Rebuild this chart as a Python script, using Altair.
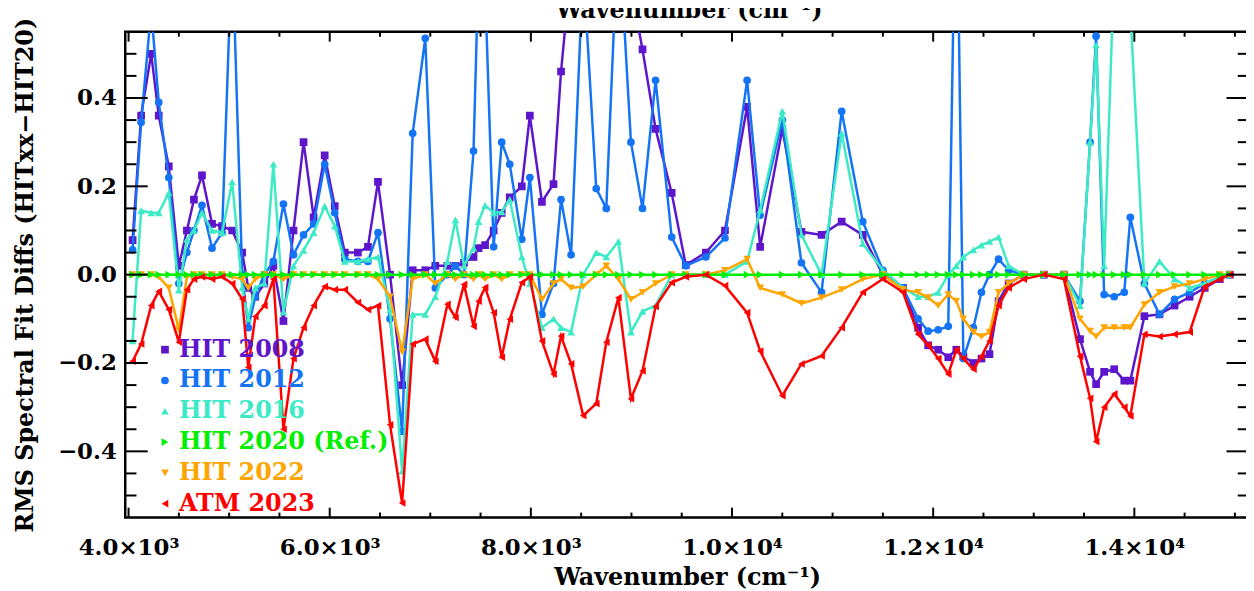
import altair as alt
import pandas as pd

# ---------------- data ----------------
wavenumber = [
    4040, 4125, 4225, 4300, 4400, 4500, 4580, 4650, 4730, 4830,
    4930, 5030, 5130, 5190, 5260, 5350, 5440, 5540, 5640, 5740,
    5840, 5950, 6050, 6150, 6280, 6380, 6480, 6600, 6720, 6825,
    6950, 7050, 7170, 7250, 7335, 7430, 7480, 7545, 7630, 7710,
    7790, 7910, 7990, 8110, 8225, 8300, 8400, 8520, 8650, 8750,
    8870, 8995, 9110, 9240, 9400, 9540, 9740, 9930, 10150, 10280,
    10500, 10690, 10890, 11090, 11300, 11500, 11700, 11850, 11950, 12050,
    12150, 12230, 12300, 12400, 12480, 12560, 12650, 12750, 12900, 13100,
    13300, 13460, 13560, 13620, 13700, 13800, 13900, 13960, 14100, 14250,
    14400, 14550, 14700, 14850, 14950,
]

hit2008 = [
    0.078, 0.36, 0.50, 0.36, 0.245, 0.02, 0.10, 0.17, 0.225, 0.115,
    0.11, 0.10, 0.05, -0.03, -0.05, -0.02, 0.02, -0.105, 0.10, 0.30,
    0.13, 0.27, 0.155, 0.05, 0.05, 0.063, 0.21, 0.0, -0.25, 0.01,
    0.01, 0.02, 0.02, 0.02, 0.027, 0.04, 0.06, 0.067, 0.10, 0.14,
    0.175, 0.20, 0.36, 0.165, 0.205, 0.46, 0.70, 0.80, 0.80, 0.80,
    0.75, 0.65, 0.51, 0.33, 0.185, 0.022, 0.05, 0.10, 0.38, 0.063,
    0.33, 0.097, 0.09, 0.12, 0.09, 0.0, -0.03, -0.12, -0.16, -0.17,
    -0.187, -0.17, -0.185, -0.20, -0.19, -0.18, -0.06, -0.02, 0.0, 0.0,
    0.0, -0.146, -0.22, -0.248, -0.22, -0.214, -0.24, -0.24, -0.094, -0.09,
    -0.07, -0.05, -0.03, -0.01, 0.0,
]

hit2012 = [
    0.056, 0.345, 0.60, 0.39, 0.22, -0.02, 0.05, 0.10, 0.157, 0.06,
    0.095, 0.75, 0.0, -0.12, -0.05, 0.0, 0.03, 0.16, 0.045, 0.09,
    0.115, 0.25, 0.14, 0.035, 0.03, 0.03, 0.095, -0.10, -0.355, 0.32,
    0.535, -0.03, 0.0, 0.02, 0.0, 0.28, 0.70, 0.65, 0.063, 0.30,
    0.25, 0.08, 0.22, -0.09, -0.02, 0.17, 0.045, 0.70, 0.195, 0.15,
    0.80, 0.30, 0.15, 0.44, 0.085, 0.02, 0.04, 0.083, 0.44, 0.135,
    0.35, 0.027, -0.04, 0.37, 0.12, 0.01, -0.03, -0.10, -0.128, -0.125,
    -0.117, 1.0, -0.19, -0.12, -0.04, 0.0, 0.035, 0.01, 0.0, 0.0,
    0.0, -0.06, 0.30, 0.54, -0.045, -0.05, -0.04, 0.13, -0.02, -0.09,
    -0.056, -0.04, -0.02, -0.005, 0.0,
]

hit2016 = [
    -0.15, 0.145, 0.14, 0.14, 0.185, -0.035, 0.08, 0.10, 0.14, 0.10,
    0.095, 0.21, -0.03, -0.10, -0.03, -0.02, 0.25, -0.085, 0.02, 0.055,
    0.095, 0.155, 0.11, 0.03, 0.03, 0.035, 0.04, -0.08, -0.445, -0.09,
    -0.09, -0.05, 0.03, 0.124, 0.02, 0.06, 0.12, 0.157, 0.14, 0.142,
    0.17, 0.04, -0.02, -0.12, -0.10, -0.12, -0.13, 0.0, 0.05, 0.04,
    0.075, -0.13, -0.083, -0.07, 0.0, 0.0, 0.0, 0.0, 0.03, 0.146,
    0.37, 0.09, 0.0, 0.32, 0.07, 0.01, -0.03, -0.05, -0.05, -0.04,
    0.0, 0.02, 0.04, 0.056, 0.067, 0.075, 0.085, 0.02, 0.0, 0.0,
    0.0, -0.07, 0.30, 0.52, 0.02, 0.70, 0.80, 0.60, -0.02, 0.03,
    -0.01, -0.03, -0.02, -0.005, 0.0,
]

hit2020 = [0.0] * len(wavenumber)

hit2022 = [
    0.0, 0.0, 0.0, -0.005, -0.03, -0.125, -0.005, 0.0, 0.0, 0.0,
    0.0, -0.005, -0.01, -0.03, -0.01, 0.0, 0.0, -0.01, 0.0, 0.0,
    0.0, 0.0, 0.0, 0.0, 0.0, 0.0, -0.01, -0.05, -0.175, -0.01,
    0.0, -0.02, 0.0, -0.01, 0.0, -0.01, 0.0, -0.01, 0.0, -0.01,
    0.0, 0.0, 0.0, -0.056, -0.02, -0.01, -0.03, -0.027, 0.0, 0.02,
    -0.01, -0.056, -0.04, -0.02, 0.0, 0.0, 0.0, 0.01, 0.035, -0.03,
    -0.045, -0.065, -0.052, -0.034, -0.01, 0.0, -0.034, -0.04, -0.052, -0.07,
    -0.045, -0.06, -0.10, -0.13, -0.14, -0.13, -0.04, -0.02, 0.0, 0.0,
    0.0, -0.10, -0.128, -0.14, -0.12, -0.12, -0.12, -0.12, -0.068, -0.04,
    -0.027, -0.02, -0.01, 0.0, 0.0,
]

atm2023 = [
    -0.196, -0.157, -0.07, -0.038, -0.079, -0.153, -0.034, -0.01, -0.005, -0.01,
    -0.005, -0.02, -0.055, -0.21, -0.095, -0.07, -0.01, -0.35, -0.19, -0.12,
    -0.07, -0.027, -0.034, -0.034, -0.063, -0.079, -0.07, -0.34, -0.517, -0.157,
    -0.146, -0.196, -0.067, -0.097, -0.022, -0.117, -0.06, -0.029, -0.086, -0.187,
    -0.101, -0.018, -0.005, -0.15, -0.225, -0.139, -0.202, -0.319, -0.292, -0.153,
    -0.052, -0.281, -0.218, -0.072, -0.018, -0.005, 0.0, -0.025, -0.086, -0.173,
    -0.274, -0.202, -0.184, -0.12, -0.04, -0.01, -0.04, -0.135, -0.16, -0.19,
    -0.225, -0.17, -0.19, -0.214, -0.185, -0.15, -0.07, -0.03, -0.01, 0.0,
    -0.01, -0.185, -0.28, -0.378, -0.30, -0.27, -0.30, -0.32, -0.135, -0.14,
    -0.135, -0.13, -0.027, -0.01, 0.0,
]

series_names = ["HIT 2008", "HIT 2012", "HIT 2016", "HIT 2020 (Ref.)", "HIT 2022", "ATM 2023"]
series_values = [hit2008, hit2012, hit2016, hit2020, hit2022, atm2023]
series_colors = ["#5E16CC", "#1474F5", "#3DEAC6", "#00EE00", "#FFA500", "#FF0000"]
series_shapes = ["square", "circle", "triangle-up", "triangle-right", "triangle-down", "triangle-left"]
draw_order = ["HIT 2008", "HIT 2012", "HIT 2016", "HIT 2022", "HIT 2020 (Ref.)", "ATM 2023"]

x_title = "Wavenumber (cm⁻¹)"
y_title = "RMS Spectral Fit Diffs (HITxx−HIT20)"

x_major_ticks = [4000, 6000, 8000, 10000, 12000, 14000]
x_minor_ticks = [4500, 5000, 5500, 6500, 7000, 7500, 8500, 9000, 9500, 10500, 11000,
                 11500, 12500, 13000, 13500, 14500, 15000]
y_major_ticks = [-0.4, -0.2, 0.0, 0.2, 0.4]
y_minor_ticks = [-0.5, -0.45, -0.35, -0.3, -0.25, -0.15, -0.1, -0.05,
                 0.05, 0.1, 0.15, 0.25, 0.3, 0.35, 0.45, 0.5]

x_range = [3967, 15140]
y_range = [-0.55, 0.55]

# ---------------- build ----------------
rows = []
for name, vals in zip(series_names, series_values):
    assert len(vals) == len(wavenumber), name
    for w, v in zip(wavenumber, vals):
        rows.append({"wavenumber": w, "diff": v, "series": name})
df = pd.DataFrame(rows)

FONT = "DejaVu Serif"
W, H = 1131, 489

xscale = alt.Scale(domain=x_range, nice=False, zero=False)
yscale = alt.Scale(domain=y_range, nice=False, zero=False)

x_axis = alt.Axis(
    values=x_major_ticks,
    labelExpr="datum.value < 10000 ? format(datum.value / 1000, '.1f') + '×10³' : format(datum.value / 10000, '.1f') + '×10⁴'",
    title=x_title, ticks=False, tickSize=0, domain=False, grid=False,
    labelPadding=19, labelFont=FONT, labelFontSize=23, labelFontWeight="bold", labelColor="black",
    labelFlush=False, labelOverlap=False,
    titleFont=FONT, titleFontSize=24, titleFontWeight="bold", titleColor="black",
    titleBaseline="alphabetic", titleY=67,
)
y_axis = alt.Axis(
    values=y_major_ticks, format=".1f",
    title=y_title, ticks=False, tickSize=0, domain=False, grid=False,
    labelPadding=9, labelFont=FONT, labelFontSize=23, labelFontWeight="bold", labelColor="black",
    labelFlush=False, labelOverlap=False,
    titleFont=FONT, titleFontSize=24, titleFontWeight="bold", titleColor="black",
    titleAngle=270, titleX=-93, titleY=H / 2, titleAlign="center", titleBaseline="alphabetic",
)

color_scale = alt.Scale(domain=series_names, range=series_colors)
shape_scale = alt.Scale(domain=series_names, range=series_shapes)

base = alt.Chart(df)
layers = []
for name in draw_order:
    sub = base.transform_filter(alt.datum.series == name)
    xenc = alt.X("wavenumber:Q", scale=xscale, axis=x_axis)
    yenc = alt.Y("diff:Q", scale=yscale, axis=y_axis)
    line = sub.mark_line(strokeWidth=2.5, clip=True).encode(
        x=xenc, y=yenc,
        color=alt.Color("series:N", scale=color_scale, legend=None),
    )
    pts = sub.mark_point(filled=True, size=60, opacity=1, clip=True).encode(
        x=xenc, y=yenc,
        color=alt.Color("series:N", scale=color_scale, legend=None),
        shape=alt.Shape("series:N", scale=shape_scale, legend=None),
    )
    layers += [line, pts]

# inward-pointing IDL-style ticks on all four sides
xmaj = alt.Chart(pd.DataFrame({"v": x_major_ticks}))
xmin = alt.Chart(pd.DataFrame({"v": x_minor_ticks}))
ymaj = alt.Chart(pd.DataFrame({"v": y_major_ticks}))
ymin = alt.Chart(pd.DataFrame({"v": y_minor_ticks}))
tick_style = dict(color="black", strokeWidth=2)
for src, length in [(xmaj, 10), (xmin, 5)]:
    xe = alt.X("v:Q", scale=xscale, axis=x_axis)
    layers.append(src.mark_rule(**tick_style).encode(x=xe, y=alt.value(H), y2=alt.value(H - length)))
    layers.append(src.mark_rule(**tick_style).encode(x=xe, y=alt.value(0), y2=alt.value(length)))
for src, length in [(ymaj, 22.6), (ymin, 11.3)]:
    ye = alt.Y("v:Q", scale=yscale, axis=y_axis)
    layers.append(src.mark_rule(**tick_style).encode(y=ye, x=alt.value(0), x2=alt.value(length)))
    layers.append(src.mark_rule(**tick_style).encode(y=ye, x=alt.value(W), x2=alt.value(W - length)))

# top axis title (IDL draws the same title above the box; it is cut by the page edge)
top_title = alt.Chart(pd.DataFrame({"t": [x_title]})).mark_text(
    align="center", baseline="alphabetic", font=FONT, fontSize=24, fontWeight="bold", color="black",
).encode(x=alt.value(W / 2 + 2), y=alt.value(-14), text="t:N")
layers.append(top_title)

# legend drawn inside the plot, labels in the series colours
legend_df = pd.DataFrame({"series": series_names, "row": list(range(len(series_names)))})
leg = alt.Chart(legend_df).transform_calculate(ly="320 + datum.row * 31")
leg_y = alt.Y("ly:Q", scale=None, axis=None)
layers.append(leg.mark_point(filled=True, size=60, opacity=1).encode(
    x=alt.value(40), y=leg_y,
    color=alt.Color("series:N", scale=color_scale, legend=None),
    shape=alt.Shape("series:N", scale=shape_scale, legend=None),
))
layers.append(leg.mark_text(align="left", baseline="middle", font=FONT, fontSize=24, fontWeight="bold").encode(
    x=alt.value(54), y=leg_y, text="series:N",
    color=alt.Color("series:N", scale=color_scale, legend=None),
))

chart = alt.layer(*layers).properties(
    width=W, height=H,
    autosize=alt.AutoSizeParams(type="none"),
    padding={"left": 118, "top": 22, "right": -3, "bottom": 72},
).configure_view(stroke="black", strokeWidth=2.5)

chart.save("out.html", embed_options={"renderer": "svg", "actions": False})
